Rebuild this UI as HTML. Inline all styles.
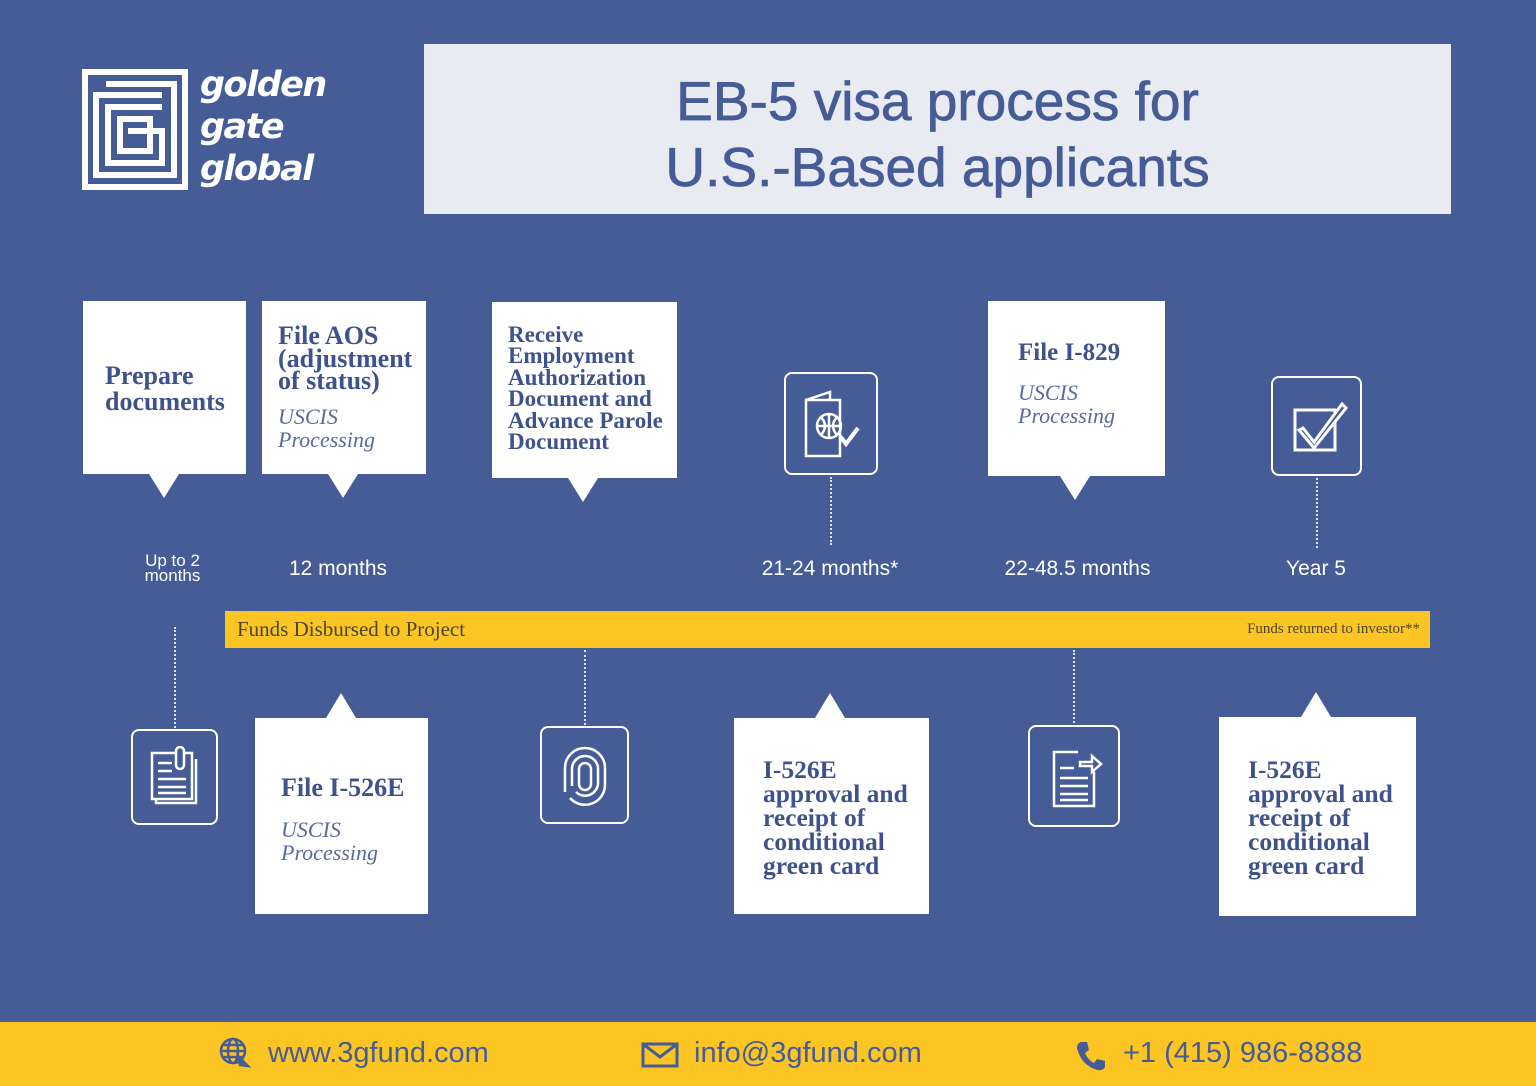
<!DOCTYPE html>
<html><head><meta charset="utf-8">
<style>
body{margin:0;width:1536px;height:1086px;background:#465c97;position:relative;overflow:hidden;font-family:"Liberation Sans",sans-serif}
.a{position:absolute}
.box{position:absolute;background:#fff;color:#3f528c;font-family:"Liberation Serif",serif;box-sizing:border-box}
.b{font-weight:bold;line-height:0.92}
.i{font-style:italic;font-weight:normal;color:#5a6a9c;line-height:1.05}
.tri{position:absolute;width:0;height:0;border-left:15px solid transparent;border-right:15px solid transparent}
.dn{border-top:24px solid #fff}
.up{border-bottom:25px solid #fff}
.ic{position:absolute;border:2px solid #fff;border-radius:8px;box-sizing:border-box}
.dot{position:absolute;width:0;border-left:2px dotted #dfe4ef}
.lab{position:absolute;color:#fff;font-size:21px;text-align:center}
</style></head><body>

<!-- logo -->
<svg class="a" style="left:82px;top:69px" width="106" height="121" viewBox="0 0 106 121">
<g fill="none" stroke="#fff" stroke-width="6">
<rect x="3" y="3" width="100" height="115"/>
<path d="M24 15 H92 V106 H14 V26 H80"/>
<path d="M80 38 H26 V94 H80 V62 H46"/>
<path d="M38 50 H68 V82 H38 Z"/>
</g></svg>
<div class="a" style="left:200px;top:64px;color:#fff;font-family:'DejaVu Sans',sans-serif;font-style:italic;font-weight:bold;font-size:35px;line-height:42px;letter-spacing:-1.5px">golden<br>gate<br>global</div>

<!-- title -->
<div class="a" style="left:424px;top:44px;width:1027px;height:170px;background:#e8ebf2;color:#465c97;text-align:center;font-size:55px;line-height:66px;padding-top:24px;box-sizing:border-box;-webkit-text-stroke:0.8px #465c97">EB-5 visa process for<br>U.S.-Based applicants</div>

<!-- top row -->
<div class="box" style="left:83px;top:301px;width:163px;height:173px;padding:62px 0 0 22px"><div class="b" style="font-size:26px;line-height:1.0">Prepare<br>documents</div></div>
<div class="tri dn" style="left:149px;top:474px"></div>

<div class="box" style="left:262px;top:301px;width:164px;height:173px;padding:24px 0 0 16px"><div class="b" style="font-size:26px;line-height:0.87">File AOS<br>(adjustment<br>of status)</div><div class="i" style="font-size:22px;margin-top:12px">USCIS<br>Processing</div></div>
<div class="tri dn" style="left:328px;top:474px"></div>

<div class="box" style="left:492px;top:302px;width:185px;height:176px;padding:22px 0 0 16px"><div class="b" style="font-size:23px;line-height:0.93">Receive<br>Employment<br>Authorization<br>Document and<br>Advance Parole<br>Document</div></div>
<div class="tri dn" style="left:568px;top:478px"></div>

<div class="ic" style="left:784px;top:372px;width:94px;height:103px"></div>
<svg class="a" style="left:800px;top:388px" width="64" height="72" viewBox="0 0 64 72"><g fill="none" stroke="#fff" stroke-width="2.5"><path d="M6 12 L30 4 V12"/><rect x="6" y="12" width="34" height="56"/><circle cx="29" cy="38" r="12"/><path d="M17 38 H41 M29 26 V50 M21 29 Q29 38 21 47 M37 29 Q29 38 37 47"/><path d="M40 48 L46 56 L58 40" stroke-width="4"/></g></svg>
<div class="dot" style="left:830px;top:477px;height:68px"></div>

<div class="box" style="left:988px;top:301px;width:177px;height:175px;padding:40px 0 0 30px"><div class="b" style="font-size:25px">File I-829</div><div class="i" style="font-size:22px;margin-top:17px">USCIS<br>Processing</div></div>
<div class="tri dn" style="left:1060px;top:476px"></div>

<div class="ic" style="left:1271px;top:376px;width:91px;height:100px"></div>
<svg class="a" style="left:1290px;top:398px" width="60" height="58" viewBox="0 0 60 58"><g fill="none" stroke="#fff" stroke-width="3"><rect x="5" y="12" width="40" height="40"/><path d="M13 30 L24 44 L52 6 L56 10 L24 50 L9 32 Z" fill="#465c97"/></g></svg>
<div class="dot" style="left:1316px;top:478px;height:70px"></div>

<!-- labels -->
<div class="lab" style="left:125px;top:553px;width:95px;font-size:17px;line-height:15px">Up to 2<br>months</div>
<div class="lab" style="left:268px;top:557px;width:140px">12 months</div>
<div class="lab" style="left:740px;top:557px;width:180px">21-24 months*</div>
<div class="lab" style="left:985px;top:557px;width:185px">22-48.5 months</div>
<div class="lab" style="left:1266px;top:557px;width:100px">Year 5</div>

<!-- yellow bar -->
<div class="a" style="left:225px;top:611px;width:1205px;height:37px;background:#fcc524;font-family:'Liberation Serif',serif;color:#4a4530">
<span class="a" style="left:12px;top:6px;font-size:21px">Funds Disbursed to Project</span>
<span class="a" style="right:10px;top:10px;font-size:15px">Funds returned to investor**</span></div>

<!-- bottom row -->
<div class="dot" style="left:174px;top:627px;height:101px"></div>
<div class="ic" style="left:131px;top:729px;width:87px;height:96px"></div>
<svg class="a" style="left:148px;top:745px" width="54" height="62" viewBox="0 0 54 62"><g fill="none" stroke="#fff" stroke-width="2.5"><path d="M8 12 V58 H48 V14"/><rect x="4" y="8" width="40" height="46" fill="#465c97"/><path d="M10 18 H24 M10 26 H24 M10 34 H38 M10 42 H38 M10 48 H38"/><rect x="28" y="2" width="8" height="22" rx="4" fill="#465c97"/></g></svg>

<div class="box" style="left:255px;top:718px;width:173px;height:196px;padding:58px 0 0 26px"><div class="b" style="font-size:26px">File I-526E</div><div class="i" style="font-size:22px;margin-top:18px">USCIS<br>Processing</div></div>
<div class="tri up" style="left:326px;top:693px"></div>

<div class="dot" style="left:584px;top:650px;height:75px"></div>
<div class="ic" style="left:540px;top:726px;width:89px;height:98px"></div>
<svg class="a" style="left:558px;top:742px" width="54" height="68" viewBox="0 0 54 68"><g fill="none" stroke="#fff" stroke-width="2.5"><path d="M7 50 V26 A20 20 0 0 1 47 26 V42 A20 20 0 0 1 12 56"/><path d="M14 44 V27 A13 13 0 0 1 40 27 V42 A13 13 0 0 1 18 50"/><path d="M21 27 A6 6 0 0 1 33 27 V42 A6 6 0 0 1 21 42 Z"/></g></svg>

<div class="box" style="left:734px;top:718px;width:195px;height:196px;padding:40px 0 0 29px"><div class="b" style="font-size:25.5px;line-height:0.94">I-526E<br>approval and<br>receipt of<br>conditional<br>green card</div></div>
<div class="tri up" style="left:815px;top:693px"></div>

<div class="dot" style="left:1073px;top:650px;height:73px"></div>
<div class="ic" style="left:1028px;top:725px;width:92px;height:102px"></div>
<svg class="a" style="left:1048px;top:748px" width="56" height="62" viewBox="0 0 56 62"><g fill="none" stroke="#fff" stroke-width="2.5"><path d="M30 4 H6 V58 H46 V24"/><path d="M12 20 H26 M12 30 H40 M12 38 H40 M12 46 H40 M12 52 H40"/><path d="M32 14 H44 V8 L53 16 L44 24 V18 H32 Z"/></g></svg>

<div class="box" style="left:1219px;top:717px;width:197px;height:199px;padding:41px 0 0 29px"><div class="b" style="font-size:25.5px;line-height:0.94">I-526E<br>approval and<br>receipt of<br>conditional<br>green card</div></div>
<div class="tri up" style="left:1301px;top:692px"></div>

<!-- footer -->
<div class="a" style="left:0;top:1022px;width:1536px;height:64px;background:#fcc524;color:#465c97;font-size:29px">
<svg class="a" style="left:218px;top:14px" width="34" height="34" viewBox="0 0 34 34"><g fill="none" stroke="#465c97" stroke-width="2.5"><circle cx="15" cy="15" r="12"/><ellipse cx="15" cy="15" rx="5" ry="12"/><path d="M3 15 H27 M5 9 H25 M5 21 H25"/><path d="M20 20 L30 30 L22 29 Z" fill="#465c97"/></g></svg>
<span class="a" style="left:268px;top:15px">www.3gfund.com</span>
<svg class="a" style="left:641px;top:20px" width="38" height="26" viewBox="0 0 38 26"><g fill="none" stroke="#465c97" stroke-width="3"><rect x="2" y="2" width="34" height="22"/><path d="M2 2 L19 15 L36 2"/></g></svg>
<span class="a" style="left:694px;top:15px">info@3gfund.com</span>
<svg class="a" style="left:1075px;top:18px" width="32" height="32" viewBox="0 0 32 32"><path d="M6 2 L12 2 L14 10 L10 13 Q13 20 19 23 L22 19 L30 21 L30 27 Q28 31 22 30 Q6 25 2 8 Q2 3 6 2 Z" fill="#465c97"/></svg>
<span class="a" style="left:1123px;top:15px">+1 (415) 986-8888</span>
</div>
</body></html>
